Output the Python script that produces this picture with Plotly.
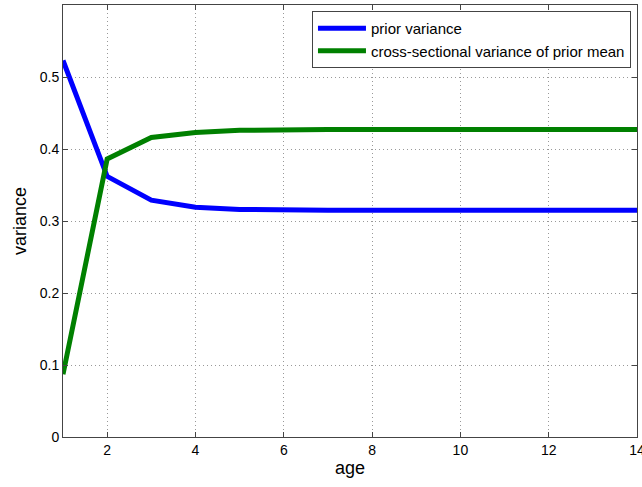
import plotly.graph_objects as go

age = list(range(1, 15))
prior_variance = [0.523, 0.362, 0.329, 0.319, 0.316, 0.315, 0.315, 0.315, 0.315, 0.315, 0.315, 0.315, 0.315, 0.315]
cs_variance = [0.087, 0.386, 0.416, 0.423, 0.426, 0.427, 0.427, 0.427, 0.427, 0.427, 0.427, 0.427, 0.427, 0.427]
xticks = [2, 4, 6, 8, 10, 12, 14]
yticks = [0, 0.1, 0.2, 0.3, 0.4, 0.5]
ytick_labels = ["0", "0.1", "0.2", "0.3", "0.4", "0.5"]

fig = go.Figure()
fig.add_trace(go.Scatter(x=age, y=prior_variance, mode="lines", name="prior variance",
                         line=dict(color="#0000ff", width=5)))
fig.add_trace(go.Scatter(x=age, y=cs_variance, mode="lines", name="cross-sectional variance of prior mean",
                         line=dict(color="#008000", width=5)))

axis_common = dict(showline=True, linecolor="#444", linewidth=1, mirror="allticks",
                   ticks="inside", ticklen=5, tickcolor="#444",
                   showgrid=True, gridcolor="#999999", griddash="1px,3px", gridwidth=1,
                   zeroline=False, ticklabeloverflow="allow", automargin=False,
                   tickfont=dict(size=14, color="black", family="Liberation Sans"))

fig.update_xaxes(range=[1, 14], tickvals=xticks, ticktext=[str(v) for v in xticks],
                 title=dict(text="age", font=dict(size=18, family="Liberation Sans", color="black"), standoff=4), **axis_common)
fig.update_yaxes(range=[0, 0.6], tickvals=yticks, ticktext=ytick_labels,
                 title=dict(text="variance", font=dict(size=18, family="Liberation Sans", color="black"), standoff=8), **axis_common)

fig.update_layout(
    width=642, height=487,
    margin=dict(l=63, r=5, t=5, b=50),
    plot_bgcolor="white", paper_bgcolor="white",
    font=dict(family="Liberation Sans", color="black"),
    legend=dict(x=0.9895, y=0.986, xanchor="right", yanchor="top",
                bordercolor="#444", borderwidth=1, bgcolor="white",
                font=dict(size=15, family="Liberation Sans"), tracegroupgap=0,
                itemwidth=48),
    showlegend=True,
)

fig.write_html("out.html")
